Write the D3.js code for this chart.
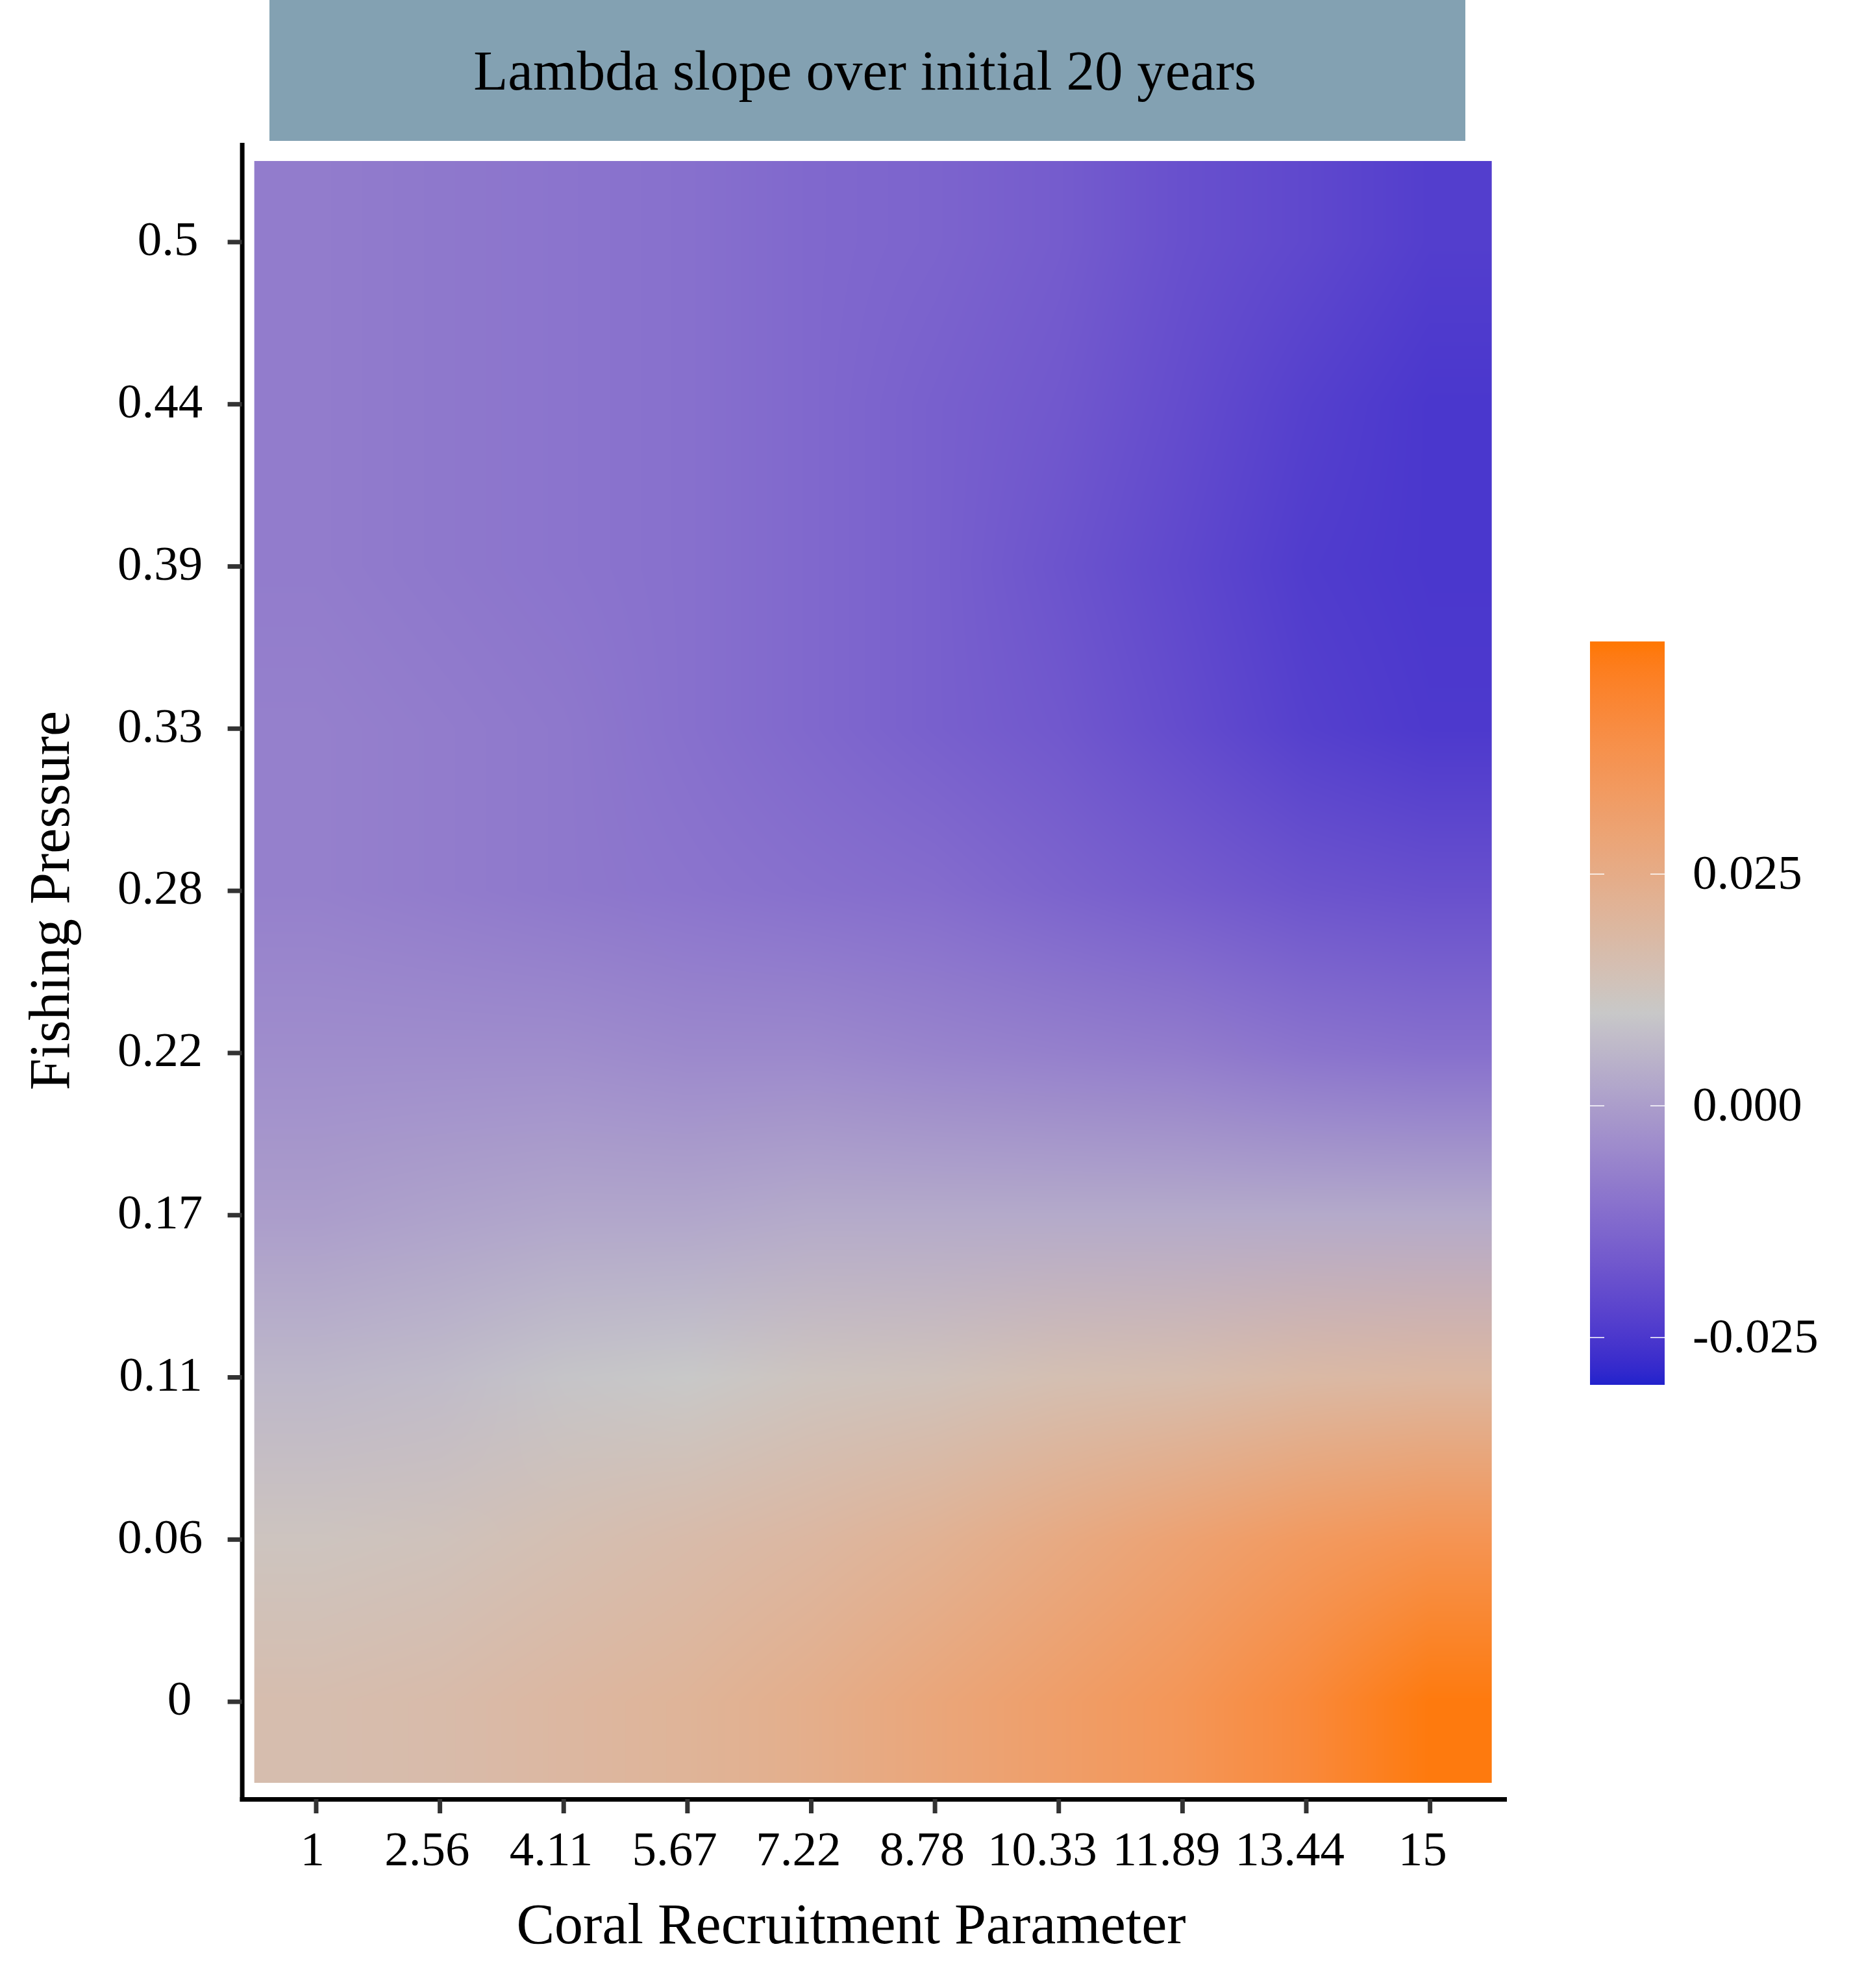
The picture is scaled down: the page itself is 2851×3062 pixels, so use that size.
<!DOCTYPE html>
<html>
<head>
<meta charset="utf-8">
<script src="https://cdn.jsdelivr.net/npm/d3@7"></script>
<style>
	body { margin: 0; background: #fff; }
	svg { display: block; }
	text { font-family: "Liberation Serif", "DejaVu Serif", serif; fill: #000; }
</style>
</head>
<body>
<svg id="chart" width="2851" height="3062"></svg>
<script>

// x: coral recruitment parameter (printed labels as on the axis)
var coralRecruitment = [1, 2.56, 4.11, 5.67, 7.22, 8.78, 10.33, 11.89, 13.44, 15];
// y: fishing pressure
var fishingPressure = [0, 0.06, 0.11, 0.17, 0.22, 0.28, 0.33, 0.39, 0.44, 0.5];

// lambda slope over the initial 20 years, one array per fishing pressure
var slopeF000 = [0.016, 0.017, 0.019, 0.021, 0.024, 0.028, 0.032, 0.036, 0.042, 0.049];
var slopeF006 = [0.012, 0.013, 0.015, 0.017, 0.019, 0.022, 0.026, 0.030, 0.034, 0.037];
var slopeF011 = [0.006, 0.007, 0.009, 0.010, 0.012, 0.013, 0.015, 0.016, 0.018, 0.019];
var slopeF017 = [0.000, 0.001, 0.002, 0.002, 0.003, 0.003, 0.003, 0.003, 0.003, 0.003];
var slopeF022 = [-0.004, -0.004, -0.004, -0.005, -0.005, -0.006, -0.007, -0.008, -0.010, -0.011];
var slopeF028 = [-0.007, -0.008, -0.009, -0.010, -0.011, -0.012, -0.014, -0.016, -0.018, -0.019];
var slopeF033 = [-0.007, -0.008, -0.009, -0.011, -0.013, -0.015, -0.017, -0.020, -0.023, -0.0245];
var slopeF039 = [-0.008, -0.009, -0.010, -0.011, -0.013, -0.015, -0.018, -0.021, -0.024, -0.025];
var slopeF044 = [-0.008, -0.009, -0.010, -0.011, -0.013, -0.015, -0.017, -0.020, -0.023, -0.025];
var slopeF050 = [-0.008, -0.009, -0.010, -0.011, -0.013, -0.014, -0.016, -0.019, -0.021, -0.0235];

// colour bar limits and colours (low, mid, high)
var fillLimits = [-0.0301, 0.0501];
var fillColours = ["#2222CC", "#C8C8C8", "#FF7700"];
var legendBreaks = [-0.025, 0, 0.025];

var titleText = "Lambda slope over initial 20 years";
var xTitle = "Coral Recruitment Parameter";
var yTitle = "Fishing Pressure";

// rows in the same order as fishingPressure
var lambdaSlope = [slopeF000, slopeF006, slopeF011, slopeF017, slopeF022,
	slopeF028, slopeF033, slopeF039, slopeF044, slopeF050];

// layout
var panel = {left: 372.6, right: 2317, top: 223, bottom: 2771};
var strip = {left: 415, right: 2257, top: 0, bottom: 217};
var legendBox = {left: 2449, width: 115, top: 988, bottom: 2133};

var svg = d3.select("#chart");

// discrete scales, ggplot style expansion (0.6 of a step each side)
var xScale = d3.scaleBand()
	.domain(coralRecruitment)
	.range([panel.left, panel.right])
	.paddingInner(0)
	.paddingOuter(0.1);

var yScale = d3.scaleBand()
	.domain(fishingPressure.slice().reverse())
	.range([panel.top, panel.bottom])
	.paddingInner(0)
	.paddingOuter(0.1);

var fillScale = d3.scaleLinear()
	.domain([fillLimits[0], (fillLimits[0] + fillLimits[1]) / 2, fillLimits[1]])
	.range(fillColours)
	.interpolate(d3.interpolateLab)
	.clamp(true);

var fmt = d3.formatLocale({
	decimal: ".", thousands: ",", grouping: [3], currency: ["", ""], minus: "-"
}).format(".3f");

// strip with the title
svg.append("rect")
	.attr("x", strip.left)
	.attr("y", strip.top)
	.attr("width", strip.right - strip.left)
	.attr("height", strip.bottom - strip.top)
	.attr("fill", "#83A1B2");

svg.append("text")
	.attr("x", 1332)
	.attr("y", 138)
	.attr("text-anchor", "middle")
	.style("font-size", "87px")
	.text(titleText);

// raster, drawn like an interpolated geom_raster
function drawRaster(){
	var nx = coralRecruitment.length;
	var ny = fishingPressure.length;
	var x0 = xScale(coralRecruitment[0]);
	var x1 = xScale(coralRecruitment[nx - 1]) + xScale.bandwidth();
	var y0 = yScale(fishingPressure[ny - 1]);
	var y1 = yScale(fishingPressure[0]) + yScale.bandwidth();
	var W = Math.round(x1 - x0);
	var H = Math.round(y1 - y0);

	// colour of each cell, top row first
	var cells = [];
	for (var r = 0; r < ny; r++){
		var row = lambdaSlope[ny - 1 - r];
		cells.push(row.map(v => d3.rgb(fillScale(v))));
	}

	var canvas = document.createElement("canvas");
	canvas.width = W;
	canvas.height = H;
	var ctx = canvas.getContext("2d");
	var img = ctx.createImageData(W, H);
	var data = img.data;

	for (var py = 0; py < H; py++){
		var gy = (py + 0.5) * ny / H - 0.5;
		gy = Math.max(0, Math.min(ny - 1, gy));
		var j0 = Math.min(ny - 2, Math.floor(gy));
		var fy = gy - j0;
		for (var px = 0; px < W; px++){
			var gx = (px + 0.5) * nx / W - 0.5;
			gx = Math.max(0, Math.min(nx - 1, gx));
			var i0 = Math.min(nx - 2, Math.floor(gx));
			var fx = gx - i0;
			var a = cells[j0][i0], b = cells[j0][i0 + 1];
			var c = cells[j0 + 1][i0], d = cells[j0 + 1][i0 + 1];
			var k = (py * W + px) * 4;
			data[k] = (a.r * (1 - fx) + b.r * fx) * (1 - fy) + (c.r * (1 - fx) + d.r * fx) * fy;
			data[k + 1] = (a.g * (1 - fx) + b.g * fx) * (1 - fy) + (c.g * (1 - fx) + d.g * fx) * fy;
			data[k + 2] = (a.b * (1 - fx) + b.b * fx) * (1 - fy) + (c.b * (1 - fx) + d.b * fx) * fy;
			data[k + 3] = 255;
		}
	}
	ctx.putImageData(img, 0, 0);

	svg.append("image")
		.attr("class", "raster")
		.attr("x", x0)
		.attr("y", y0)
		.attr("width", W)
		.attr("height", H)
		.attr("preserveAspectRatio", "none")
		.attr("href", canvas.toDataURL("image/png"));
}
drawRaster();

// x axis
var gx = svg.append("g")
	.attr("class", "x-axis")
	.attr("transform", "translate(0," + panel.bottom + ")")
	.call(d3.axisBottom(xScale).tickSizeInner(22).tickSizeOuter(0).tickPadding(27));

// y axis
var gy = svg.append("g")
	.attr("class", "y-axis")
	.attr("transform", "translate(" + panel.left + ",0)")
	.call(d3.axisLeft(yScale).tickSizeInner(22).tickSizeOuter(0));

[gx, gy].forEach(function(g){
	g.select(".domain")
		.attr("stroke", "#000")
		.attr("stroke-width", 7)
		.attr("stroke-linecap", "square");
	g.selectAll(".tick line")
		.attr("stroke", "#333")
		.attr("stroke-width", 7);
	g.selectAll(".tick text")
		.attr("fill", "#000")
		.style("font-family", "'Liberation Serif', serif")
		.style("font-size", "75px");
});

// x labels are nudged a little left, as in the original
gx.selectAll(".tick text").each(function(){
	var len = this.getComputedTextLength();
	d3.select(this).attr("x", -0.15 * len);
});

// y labels: hjust about 0.82 around a common anchor
gy.selectAll(".tick text").each(function(){
	var len = this.getComputedTextLength();
	d3.select(this)
		.attr("text-anchor", "start")
		.attr("x", -84 - 0.82 * len)
		.attr("dy", "0.27em");
});

// axis titles
svg.append("text")
	.attr("x", 1311)
	.attr("y", 2993)
	.attr("text-anchor", "middle")
	.style("font-size", "88px")
	.text(xTitle);

svg.append("text")
	.attr("transform", "translate(106,1387) rotate(-90)")
	.attr("text-anchor", "middle")
	.style("font-size", "88px")
	.text(yTitle);

// colour bar
var legendY = d3.scaleLinear()
	.domain(fillLimits)
	.range([legendBox.bottom, legendBox.top]);

var grad = svg.append("defs")
	.append("linearGradient")
	.attr("id", "fillGrad")
	.attr("x1", 0).attr("y1", 1)
	.attr("x2", 0).attr("y2", 0);

grad.selectAll("stop")
	.data(d3.range(0, 61))
	.join("stop")
	.attr("offset", d => d / 60)
	.attr("stop-color", d => fillScale(fillLimits[0] + d / 60 * (fillLimits[1] - fillLimits[0])));

svg.append("rect")
	.attr("x", legendBox.left)
	.attr("y", legendBox.top)
	.attr("width", legendBox.width)
	.attr("height", legendBox.bottom - legendBox.top)
	.attr("fill", "url(#fillGrad)");

var legTicks = svg.append("g").attr("class", "legend-ticks");
legTicks.selectAll("line.l")
	.data(legendBreaks)
	.join("line")
	.attr("class", "l")
	.attr("x1", legendBox.left)
	.attr("x2", legendBox.left + 22)
	.attr("y1", d => legendY(d))
	.attr("y2", d => legendY(d))
	.attr("stroke", "#fff")
	.attr("stroke-width", 1.5);
legTicks.selectAll("line.r")
	.data(legendBreaks)
	.join("line")
	.attr("class", "r")
	.attr("x1", legendBox.left + legendBox.width - 22)
	.attr("x2", legendBox.left + legendBox.width)
	.attr("y1", d => legendY(d))
	.attr("y2", d => legendY(d))
	.attr("stroke", "#fff")
	.attr("stroke-width", 1.5);

svg.append("g")
	.attr("class", "legend-labels")
	.selectAll("text")
	.data(legendBreaks)
	.join("text")
	.attr("x", 2607)
	.attr("y", d => legendY(d))
	.attr("dy", "0.3em")
	.style("font-size", "75px")
	.text(d => fmt(d));

</script>
</body>
</html>
